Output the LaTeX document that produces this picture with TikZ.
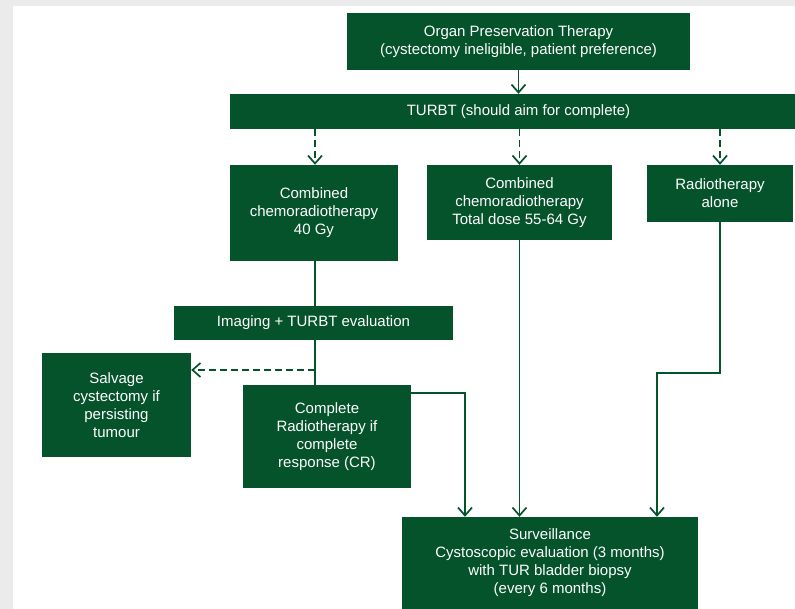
\documentclass[tikz,border=0pt]{standalone}
\usepackage{fontspec}
\setmainfont{Liberation Sans}
\usetikzlibrary{arrows.meta}
\definecolor{dg}{HTML}{05532B}
\definecolor{bgg}{HTML}{EBEBEB}
\begin{document}
\begin{tikzpicture}[x=1pt,y=-1pt,
 box/.style={fill=dg, text=white, inner sep=0pt, align=center, font=\fontsize{15}{18}\selectfont},
 conn/.style={draw=dg, line width=1.7pt},
 arr/.style={conn, -{Straight Barb[length=8pt,width=14pt,line width=1.7pt]}},
 dsh/.style={dash pattern=on 7pt off 4pt}]
\useasboundingbox (0,0) rectangle (795,609);
\fill[bgg] (0,0) rectangle (795,609);
\fill[white] (13,6) rectangle (795,609);

\node[box, minimum width=343pt, minimum height=57pt] (organ) at (518.5,41.5) {Organ Preservation Therapy\\(cystectomy ineligible, patient preference)};
\node[box, minimum width=577pt, minimum height=35pt] (turbt) at (518.5,111.5) {TURBT (should aim for complete)};
\node[box, minimum width=168pt, minimum height=96pt] (gy40) at (314,213) {Combined\\chemoradiotherapy\\40 Gy};
\node[box, minimum width=185pt, minimum height=75pt] (total) at (519.5,202.5) {Combined\\chemoradiotherapy\\Total dose 55-64 Gy};
\node[box, minimum width=146pt, minimum height=57pt] (radio) at (720,193.5) {Radiotherapy\\alone};
\node[box, minimum width=279pt, minimum height=34pt] (imaging) at (313.5,323) {Imaging + TURBT evaluation};
\node[box, minimum width=149pt, minimum height=104pt] (salvage) at (116.5,405) {Salvage\\cystectomy if\\persisting\\tumour};
\node[box, minimum width=168pt, minimum height=103pt] (complete) at (327,436.5) {Complete\\Radiotherapy if\\complete\\response (CR)};
\node[box, minimum width=296pt, minimum height=92pt] (surv) at (550,563) {Surveillance\\Cystoscopic evaluation (3 months)\\with TUR bladder biopsy\\(every 6 months)};

\coordinate (j) at (315,370);
\coordinate (k) at (465,393);
\coordinate (m) at (657,373);

\draw[arr] (organ) -- (turbt);
\draw[arr,dsh] (turbt.south -| j) -- (gy40.north -| j);
\draw[arr,dsh] (turbt.south -| total) -- (total.north);
\draw[arr,dsh] (turbt.south -| radio) -- (radio.north);
\draw[conn] (gy40.south -| j) -- (imaging.north -| j);
\draw[conn] (imaging.south -| j) -- (complete.north -| j);
\draw[arr,dsh] (j) -- (salvage.east |- j);
\draw[arr] (complete.east |- k) -| (surv.north -| k);
\draw[arr] (total.south) -- (total.south |- surv.north);
\draw[arr] (radio.south) |- (m) -- (surv.north -| m);
\end{tikzpicture}
\end{document}
